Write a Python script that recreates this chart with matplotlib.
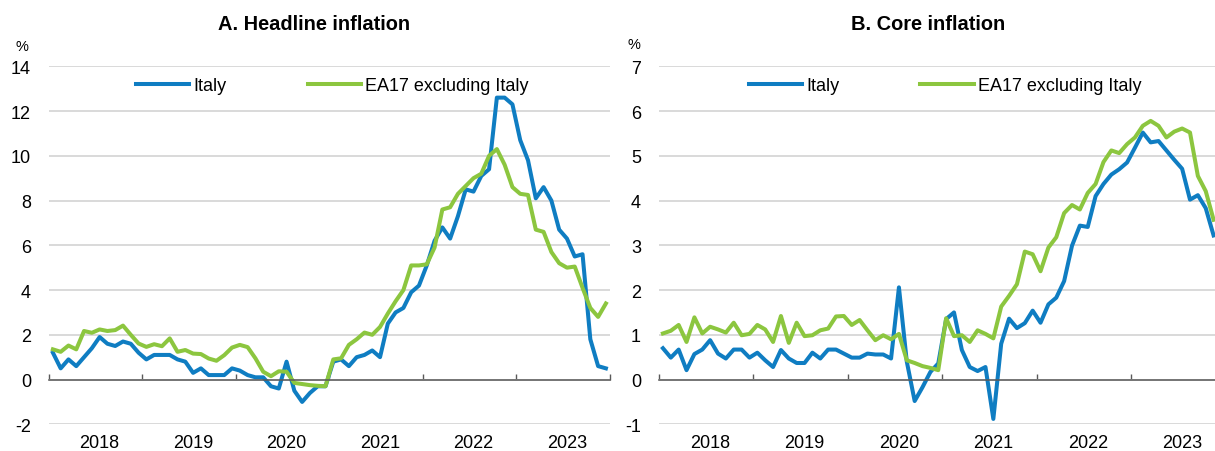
import numpy as np
import matplotlib.pyplot as plt

#++++++++++++++++++++++++++++++++++++
# Data (monthly, Jan 2018 - Dec 2023), y-o-y % change
#++++++++++++++++++++++++++++++++++++
YEARS = ['2018', '2019', '2020', '2021', '2022', '2023']

headline_italy = [1.2, 0.5, 0.9, 0.6, 1.0, 1.4, 1.9, 1.6, 1.5, 1.7, 1.6, 1.2,
                  0.9, 1.1, 1.1, 1.1, 0.9, 0.8, 0.3, 0.5, 0.2, 0.2, 0.2, 0.5,
                  0.4, 0.2, 0.1, 0.1, -0.3, -0.4, 0.8, -0.5, -1.0, -0.6, -0.3, -0.3,
                  0.8, 0.9, 0.6, 1.0, 1.1, 1.3, 1.0, 2.5, 3.0, 3.2, 3.9, 4.2,
                  5.1, 6.2, 6.8, 6.3, 7.3, 8.5, 8.4, 9.1, 9.4, 12.6, 12.6, 12.3,
                  10.7, 9.8, 8.1, 8.6, 8.0, 6.7, 6.3, 5.5, 5.6, 1.8, 0.6, 0.5]

headline_ea17 = [1.35, 1.24, 1.52, 1.35, 2.17, 2.09, 2.24, 2.17, 2.21, 2.41, 2.0, 1.61,
                 1.46, 1.58, 1.49, 1.84, 1.24, 1.32, 1.16, 1.14, 0.94, 0.84, 1.09, 1.43,
                 1.55, 1.45, 0.95, 0.35, 0.15, 0.37, 0.35, -0.15, -0.2, -0.25, -0.28, -0.3,
                 0.9, 0.95, 1.55, 1.8, 2.1, 2.0, 2.35, 2.95, 3.5, 4.0, 5.1, 5.1,
                 5.15, 5.9, 7.6, 7.7, 8.3, 8.65, 9.0, 9.2, 10.0, 10.3, 9.6, 8.6,
                 8.3, 8.25, 6.7, 6.6, 5.7, 5.2, 5.0, 5.05, 4.1, 3.2, 2.8, 3.4]

core_italy = [0.7, 0.49, 0.67, 0.21, 0.57, 0.67, 0.88, 0.58, 0.47, 0.67, 0.67, 0.49,
              0.6, 0.43, 0.28, 0.66, 0.47, 0.37, 0.37, 0.6, 0.47, 0.67, 0.67, 0.58,
              0.49, 0.49, 0.58, 0.56, 0.56, 0.47, 2.06, 0.4, -0.48, -0.17, 0.17, 0.36,
              1.35, 1.5, 0.66, 0.28, 0.19, 0.28, -0.88, 0.8, 1.36, 1.15, 1.26, 1.54,
              1.27, 1.68, 1.83, 2.2, 2.99, 3.44, 3.41, 4.1, 4.37, 4.58, 4.7, 4.85,
              5.18, 5.52, 5.3, 5.33, 5.12, 4.91, 4.71, 4.02, 4.12, 3.83, 3.22]

core_ea17 = [1.03, 1.09, 1.22, 0.84, 1.39, 1.03, 1.18, 1.12, 1.05, 1.27, 0.99, 1.02,
             1.22, 1.12, 0.84, 1.42, 0.82, 1.27, 0.97, 0.99, 1.1, 1.14, 1.41, 1.42,
             1.22, 1.33, 1.1, 0.88, 0.99, 0.9, 1.02, 0.43, 0.37, 0.3, 0.26, 0.21,
             1.37, 0.97, 0.99, 0.84, 1.1, 1.02, 0.92, 1.63, 1.87, 2.13, 2.86, 2.8,
             2.42, 2.95, 3.18, 3.72, 3.9, 3.8, 4.17, 4.37, 4.86, 5.12, 5.06, 5.26,
             5.41, 5.67, 5.78, 5.67, 5.41, 5.54, 5.61, 5.52, 4.55, 4.21, 3.57]

#++++++++++++++++++++++++++++++++++++
# Style
#++++++++++++++++++++++++++++++++++++
BLUE   = '#0F7DC2'
GREEN  = '#8CC63F'
FONT   = ['Liberation Sans', 'DejaVu Sans']
FS     = 13
W, H   = 1215, 452

plt.rcParams['axes.unicode_minus'] = False
plt.rcParams['font.family'] = FONT

fig = plt.figure(figsize=(W / 100, H / 100), dpi=100)


def panel(left_px, width_px, italy, ea17, ylim, step, title, title_px, pct_px):
    ax = fig.add_axes([left_px / W, (H - 425.3) / H, width_px / W, 358 / H])
    ax.plot(np.arange(len(italy)), italy, color=BLUE, lw=2.9, label='Italy')
    ax.plot(np.arange(len(ea17)), ea17, color=GREEN, lw=2.9, label='EA17 excluding Italy')

    ax.set_xlim(-0.5, 71.5)
    ax.set_ylim(*ylim)
    ax.set_yticks(np.arange(ylim[0], ylim[1] + step, step))
    ax.yaxis.grid(True, color='#D9D9D9', lw=1.4)
    ax.set_axisbelow(True)

    for s in ['left', 'right', 'top']:
        ax.spines[s].set_visible(False)
    ax.spines['bottom'].set_position(('data', 0))
    ax.spines['bottom'].set_color('#595959')
    ax.spines['bottom'].set_linewidth(1.1)

    ax.set_xticks(np.arange(-0.5, 72, 12))
    ax.set_xticklabels([])
    ax.set_xticks(np.arange(6, 72, 12), minor=True)
    ax.set_xticklabels(YEARS, minor=True)
    ax.tick_params(axis='x', which='major', direction='in', length=4.5, width=1, color='#595959')
    ax.tick_params(axis='x', which='minor', length=0, pad=39, labelsize=FS)
    ax.tick_params(axis='y', length=0, pad=13, labelsize=FS)

    ax.legend(loc='center', bbox_to_anchor=(0.505, 0.945), ncol=2, frameon=False,
              fontsize=FS, handlelength=2.95, handletextpad=0.22, columnspacing=4.5)

    fig.text(title_px / W, 1 - 30 / H, title, ha='center', va='baseline',
             fontsize=14.4, fontweight='bold')
    fig.text(pct_px[0] / W, 1 - pct_px[1] / H, '%', ha='center', va='center', fontsize=10.5)
    return ax


panel(49, 560.8, headline_italy, headline_ea17, (-2, 14), 2,
      'A. Headline inflation', 314, (21.7, 46.7))
panel(659, 566.4, core_italy, core_ea17, (-1, 7), 1,
      'B. Core inflation', 928, (634, 45))

fig.savefig('out.png', dpi=100)
